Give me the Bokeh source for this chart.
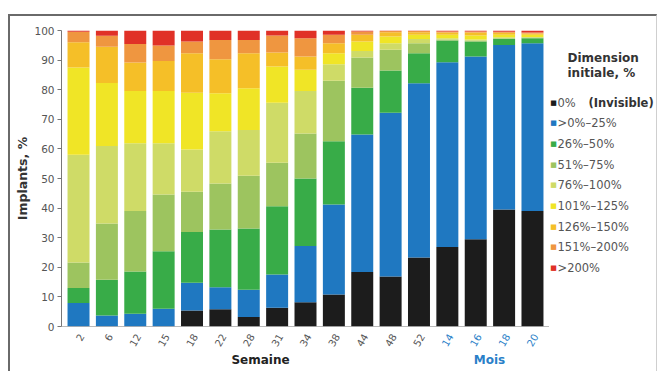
import math
from bokeh.plotting import figure
from bokeh.layouts import column, row
from bokeh.models import Range1d, FixedTicker, Label, LabelSet, ColumnDataSource, Span
from bokeh.core.properties import value
from bokeh.embed import file_html
from bokeh.resources import INLINE

# ---- data ----
weeks = ["2", "6", "12", "15", "18", "22", "28", "31", "34", "38", "44", "48", "52"]
months = ["14", "16", "18", "20"]
categories = weeks + months

series_labels = ["0%", ">0%–25%", "26%–50%", "51%–75%", "76%–100%",
                 "101%–125%", "126%–150%", "151%–200%", ">200%"]
series_colors = ["#1c1c1c", "#1f78c1", "#38ac48", "#9dc45f", "#cfdb67",
                 "#f0e526", "#f5bf28", "#ef9640", "#e03127"]

s_invisible = [0, 0, 0, 0, 5.4, 5.8, 3.2, 6.3, 8.2, 10.8, 18.4, 16.9, 23.3, 26.9, 29.5, 39.5, 39.0]
s_0_25 = [7.9, 3.7, 4.3, 6.0, 9.4, 7.5, 9.2, 11.3, 19.0, 30.4, 46.5, 55.3, 58.9, 62.4, 61.7, 55.6, 56.7]
s_26_50 = [5.1, 12.1, 14.3, 19.4, 17.1, 19.5, 20.7, 23.0, 22.8, 21.4, 15.8, 14.3, 10.1, 7.3, 5.1, 2.1, 1.7]
s_51_75 = [8.6, 19.0, 20.4, 19.2, 13.6, 15.5, 17.8, 14.7, 15.2, 20.4, 10.2, 7.0, 3.4, 0.4, 0.3, 0.2, 0.2]
s_76_100 = [36.4, 26.2, 22.9, 17.3, 14.3, 17.7, 15.5, 20.3, 14.4, 5.6, 2.2, 2.2, 1.4, 0.4, 0.4, 0.3, 0.2]
s_101_125 = [29.5, 21.3, 17.7, 17.7, 19.2, 12.8, 14.1, 12.2, 7.1, 3.7, 3.2, 2.3, 1.5, 1.2, 1.3, 0.9, 0.8]
s_126_150 = [8.5, 12.2, 9.6, 10.1, 13.3, 11.5, 11.8, 4.8, 4.5, 3.4, 2.3, 1.4, 0.8, 0.7, 1.0, 0.6, 0.4]
s_151_200 = [3.6, 3.7, 6.2, 5.2, 4.0, 6.5, 4.5, 5.7, 6.2, 2.9, 1.1, 0.4, 0.4, 0.4, 0.4, 0.4, 0.3]
s_over_200 = [0.4, 1.8, 4.6, 5.2, 3.7, 3.2, 3.2, 1.7, 2.6, 1.4, 0.3, 0.2, 0.2, 0.3, 0.3, 0.4, 0.7]

series = [s_invisible, s_0_25, s_26_50, s_51_75, s_76_100,
          s_101_125, s_126_150, s_151_200, s_over_200]
y_ticks = [0, 10, 20, 30, 40, 50, 60, 70, 80, 90, 100]

FONT = "DejaVu Sans"
GRAY = "#555555"
BLUE_TXT = "#2a80c8"
AXIS = "#777777"

xs = list(range(len(categories)))
keys = ["s%d" % i for i in range(len(series))]
data = {"x": xs}
for k, s in zip(keys, series):
    data[k] = s
source = ColumnDataSource(data)


def blank(fig):
    fig.grid.visible = False
    fig.outline_line_color = None
    return fig


# ---- main chart ----
p = figure(width=539, height=316,
           min_border_left=51, min_border_right=0,
           min_border_top=14, min_border_bottom=6,
           x_range=Range1d(-0.6, 16.6), y_range=Range1d(0, 100),
           x_axis_location=None,
           output_backend="svg", toolbar_location=None)
blank(p)
p.vbar_stack(keys, x="x", width=0.775, color=series_colors, line_color=None,
             source=source)
p.add_layout(Span(location=0, dimension="width", line_color=AXIS, line_width=1))

p.yaxis.ticker = FixedTicker(ticks=y_ticks)
p.yaxis.axis_label = "Implants, %"
p.yaxis.axis_label_text_font = FONT
p.yaxis.axis_label_text_font_style = "bold"
p.yaxis.axis_label_text_font_size = "12.5px"
p.yaxis.axis_label_text_color = "#333333"
p.yaxis.axis_label_standoff = 1
p.yaxis.major_label_text_font = FONT
p.yaxis.major_label_text_font_size = "10.5px"
p.yaxis.major_label_text_color = GRAY
p.yaxis.major_label_standoff = 3
p.yaxis.major_tick_out = 4
p.yaxis.major_tick_in = 0
p.yaxis.minor_tick_line_color = None
p.yaxis.axis_line_color = AXIS
p.yaxis.major_tick_line_color = AXIS

# ---- legend panel ----
lg = figure(width=107, height=316, min_border=0,
            x_range=Range1d(0, 1), y_range=Range1d(0, 1),
            x_axis_location=None, y_axis_location=None,
            output_backend="svg", toolbar_location=None)
blank(lg)
lg.add_layout(Label(x=18, y=268.5, x_units="screen", y_units="screen", text="Dimension",
                    text_align="left", text_baseline="middle", text_font=FONT,
                    text_font_size="12px", text_font_style="bold", text_color="#333333"))
lg.add_layout(Label(x=18, y=253.5, x_units="screen", y_units="screen", text="initiale, %",
                    text_align="left", text_baseline="middle", text_font=FONT,
                    text_font_size="12px", text_font_style="bold", text_color="#333333"))
row0 = 224.0
step = 20.67
for i, (lab, col) in enumerate(zip(series_labels, series_colors)):
    yy = row0 - i * step
    lg.add_layout(Label(x=4, y=yy, x_units="screen", y_units="screen", text="■",
                        text_align="center", text_baseline="middle", text_font=FONT,
                        text_font_size="7px", text_color=col))
    lg.add_layout(Label(x=8, y=yy, x_units="screen", y_units="screen", text=lab,
                        text_align="left", text_baseline="middle", text_font=FONT,
                        text_font_size="11.5px", text_color=GRAY))
lg.add_layout(Label(x=39, y=row0, x_units="screen", y_units="screen", text="(Invisible)",
                    text_align="left", text_baseline="middle", text_font=FONT,
                    text_font_size="11.5px", text_font_style="bold", text_color="#333333"))

# ---- bottom panel: category labels and group titles ----
bt = figure(width=646, height=39,
            min_border_left=51, min_border_right=107, min_border_top=0, min_border_bottom=0,
            x_range=p.x_range, y_range=Range1d(0, 1),
            x_axis_location=None, y_axis_location=None,
            output_backend="svg", toolbar_location=None)
blank(bt)
lab_src = ColumnDataSource(dict(
    x=xs, text=categories,
    color=[GRAY] * len(weeks) + [BLUE_TXT] * len(months)))
bt.add_layout(LabelSet(x="x", y=37, y_units="screen", text="text", source=lab_src,
                       angle=math.pi / 3, text_align="right", text_baseline="middle",
                       x_offset=3, text_color="color", text_font=value(FONT),
                       text_font_size=value("10px")))
bt.add_layout(Label(x=199, y=12, x_units="screen", y_units="screen", text="Semaine",
                    text_align="center", text_baseline="middle", text_font=FONT,
                    text_font_size="12px", text_font_style="bold", text_color="#222222"))
bt.add_layout(Label(x=428, y=12, x_units="screen", y_units="screen", text="Mois",
                    text_align="center", text_baseline="middle", text_font=FONT,
                    text_font_size="12px", text_font_style="bold", text_color=BLUE_TXT))

layout = column(row(p, lg), bt)
layout.styles = {"border-top": "2px solid #6a6a6a", "border-left": "2px solid #6a6a6a",
                 "border-right": "1px solid #cfcfcf", "position": "relative",
                 "left": "8px", "top": "14px"}

open("out.html", "w").write(file_html(layout, INLINE))
